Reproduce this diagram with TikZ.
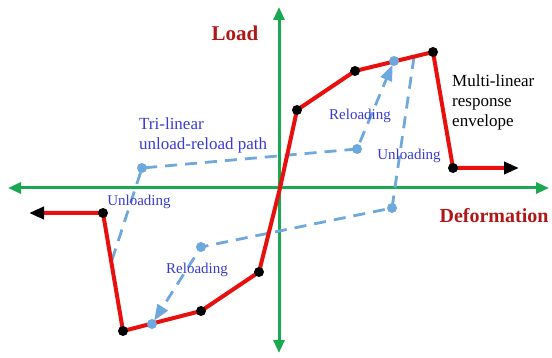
\documentclass[tikz,border=0pt]{standalone}
\usepackage{fontspec}
\setmainfont{Liberation Serif}
\usetikzlibrary{arrows.meta}
\definecolor{axisgreen}{HTML}{1AA852}
\definecolor{envred}{HTML}{E8100E}
\definecolor{titlered}{HTML}{B01818}
\definecolor{pathblue}{HTML}{6FA8DC}
\definecolor{labelblue}{HTML}{3A3AD6}
\begin{document}
\begin{tikzpicture}
        [
            x=1pt, y=-1pt,
            axis/.style={draw=axisgreen, line width=3pt, {Triangle[length=13pt,width=11pt]}-{Triangle[length=13pt,width=11pt]}},
            envelope/.style={draw=envred, line width=4pt, line join=round, -{Triangle[length=15pt,width=12pt,black]}},
            cycle/.style={draw=pathblue, line width=2.8pt, dash pattern=on 12pt off 8pt, -{Triangle[length=16pt,width=12pt,fill=pathblue,sep=0pt]}, shorten >=4pt},
            dot/.style={circle, fill=black, inner sep=0pt, minimum size=10pt},
            bluedot/.style={circle, fill=pathblue, inner sep=0pt, minimum size=10pt},
            tag/.style={text=labelblue, font=\fontsize{15}{15}\selectfont},
            title/.style={text=titlered, font=\fontsize{21}{21}\selectfont\bfseries}
        ]
        \useasboundingbox (0,0) rectangle (552,358);

        % axes
        \coordinate (xl) at (8,188);
        \coordinate (xr) at (549,188);
        \coordinate (yt) at (279,7);
        \coordinate (yb) at (279,353);
        \draw[axis] (xl) -- (xr);
        \draw[axis] (yt) -- (yb);

        % envelope points
        \coordinate (o) at (280,188);
        \coordinate (p1) at (297,110);
        \coordinate (p2) at (355,71);
        \coordinate (p3) at (433,52);
        \coordinate (p4) at (453,168);
        \coordinate (e1) at (519,168);
        \coordinate (n1) at (259,272);
        \coordinate (n2) at (201,311);
        \coordinate (n3) at (123,331);
        \coordinate (n4) at (103,213);
        \coordinate (e2) at (29,213);

        % unload-reload points
        \coordinate (u1) at (414,57);
        \coordinate (b1) at (392,208);
        \coordinate (b2) at (201,247);
        \coordinate (b3) at (152,324);
        \coordinate (u2) at (112,260);
        \coordinate (b4) at (142,168);
        \coordinate (b5) at (357,149);
        \coordinate (b6) at (394,61);

        \draw[cycle] (u1) -- (b1) -- (b2) -- (b3);
        \draw[cycle] (u2) -- (b4) -- (b5) -- (b6);

        \draw[envelope] (o) -- (p1) -- (p2) -- (p3) -- (p4) -- (e1);
        \draw[envelope] (o) -- (n1) -- (n2) -- (n3) -- (n4) -- (e2);

        \foreach \p in {p1,p2,p3,p4,n1,n2,n3,n4}
            \node[dot] at (\p) {};
        \foreach \p in {b1,b2,b3,b4,b5,b6}
            \node[bluedot] at (\p) {};

        % labels
        \node[title] (load) at (235,33) {Load};
        \node[title, font=\fontsize{20}{20}\selectfont\bfseries, anchor=east] (deform) at (552,216) {Deformation};
        \node[anchor=west, align=left, inner sep=0pt, font=\fontsize{17}{20}\selectfont] (env) at (452,102) {Multi-linear\\response\\envelope};
        \node[anchor=west, align=left, inner sep=0pt, text=labelblue, font=\fontsize{17}{20}\selectfont] (tri) at (139,135) {Tri-linear\\unload-reload path};
        \node[tag] (rel1) at (360,116) {Reloading};
        \node[tag] (unl1) at (409,156) {Unloading};
        \node[tag] (unl2) at (139,202) {Unloading};
        \node[tag] (rel2) at (197,270) {Reloading};

    \end{tikzpicture}
\end{document}
